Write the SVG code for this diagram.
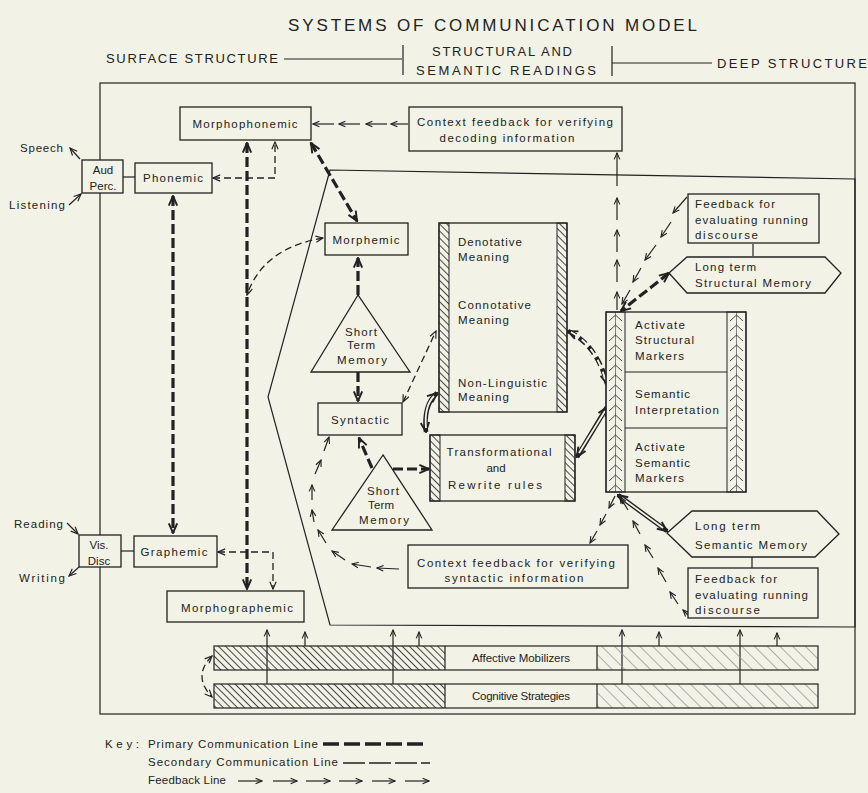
<svg xmlns="http://www.w3.org/2000/svg" width="868" height="793" viewBox="0 0 868 793">
<defs>
<style>
text{font-family:"Liberation Sans","DejaVu Sans",sans-serif;font-size:11.5px;fill:#222}
.h{font-size:13px}
.t{font-size:17px}
.m{text-anchor:middle}
.box{fill:#f2f3e6;stroke:#222;stroke-width:1.3}
.ol{fill:none;stroke:#222;stroke-width:1.2}
.ln{fill:none;stroke:#222;stroke-width:1.2}
.pri{fill:none;stroke:#222;stroke-width:3.2;stroke-dasharray:10 4;marker-start:url(#ab);marker-end:url(#ab)}
.prie{fill:none;stroke:#222;stroke-width:3.2;stroke-dasharray:10 4;marker-end:url(#ab)}
.sec{fill:none;stroke:#222;stroke-width:1.3;stroke-dasharray:7 4;marker-start:url(#a);marker-end:url(#a)}
.thin{fill:none;stroke:#222;stroke-width:1.1;stroke-dasharray:6 3}
.fb{fill:none;stroke:#222;stroke-width:1.2;marker-end:url(#af)}
.dbl{fill:none;stroke:#222;stroke-width:4.6;marker-start:url(#ab);marker-end:url(#ab)}
.dbli{fill:none;stroke:#f2f3e6;stroke-width:1.8}
</style>
<marker id="a" viewBox="0 0 10 10" refX="9" refY="5" markerWidth="9" markerHeight="9" markerUnits="userSpaceOnUse" orient="auto-start-reverse"><path d="M1,1.5 L9,5 L1,8.5" fill="none" stroke="#222" stroke-width="1.3"/></marker>
<marker id="ab" viewBox="0 0 10 10" refX="9" refY="5" markerWidth="12" markerHeight="12" markerUnits="userSpaceOnUse" orient="auto-start-reverse"><path d="M1,1.5 L9,5 L1,8.5" fill="none" stroke="#222" stroke-width="1.6"/></marker>
<marker id="af" viewBox="0 0 10 10" refX="9" refY="5" markerWidth="8" markerHeight="8" markerUnits="userSpaceOnUse" orient="auto-start-reverse"><path d="M1,1.5 L9,5 L1,8.5" fill="none" stroke="#222" stroke-width="1.4"/></marker>
<pattern id="hatch" width="5" height="5" patternUnits="userSpaceOnUse" patternTransform="rotate(-45)"><line x1="2.5" y1="0" x2="2.5" y2="5" stroke="#333" stroke-width="0.9"/></pattern>
<pattern id="hatchl" width="9" height="9" patternUnits="userSpaceOnUse" patternTransform="rotate(-45)"><line x1="4.5" y1="0" x2="4.5" y2="9" stroke="#999" stroke-width="0.8"/></pattern>
<pattern id="chev1" x="606" y="312" width="19" height="10" patternUnits="userSpaceOnUse"><path d="M3,9 L9.5,3 L16,9" stroke="#333" stroke-width="0.9" fill="none"/><line x1="9.5" y1="0" x2="9.5" y2="10" stroke="#333" stroke-width="0.6"/></pattern>
<pattern id="chev2" x="727" y="312" width="19" height="10" patternUnits="userSpaceOnUse"><path d="M3,9 L9.5,3 L16,9" stroke="#333" stroke-width="0.9" fill="none"/><line x1="9.5" y1="0" x2="9.5" y2="10" stroke="#333" stroke-width="0.6"/></pattern>
</defs>
<rect width="868" height="793" fill="#f2f3e6"/>

<g id="header">
<text class="t" x="288" y="31" textLength="409" lengthAdjust="spacing">SYSTEMS OF COMMUNICATION MODEL</text>
<text class="h" x="106" y="63" textLength="172" lengthAdjust="spacing">SURFACE STRUCTURE</text>
<line class="ln" x1="284" y1="59" x2="402" y2="59"/>
<line class="ln" x1="403" y1="45" x2="403" y2="75"/>
<text class="h m" x="502" y="56" textLength="140" lengthAdjust="spacing">STRUCTURAL AND</text>
<text class="h m" x="506" y="75" textLength="180" lengthAdjust="spacing">SEMANTIC READINGS</text>
<line class="ln" x1="612" y1="46" x2="612" y2="76"/>
<line class="ln" x1="612" y1="63" x2="712" y2="63"/>
<text class="h" x="717" y="68" textLength="150" lengthAdjust="spacing">DEEP STRUCTURE</text>
</g>

<g id="frames">
<rect class="ol" x="100" y="83" width="755" height="631"/>
<path class="ol" d="M330,170 L268,397 L330,625 L855,627 L855,179 Z"/>
</g>

<g id="connectors">
<line class="ln" x1="123" y1="177" x2="135" y2="177"/>
<line class="ln" x1="121" y1="551" x2="134" y2="551"/>
<line class="ln" x1="80" y1="159" x2="70" y2="148" marker-end="url(#a)"/>
<line class="ln" x1="69" y1="205" x2="81" y2="194" marker-end="url(#a)"/>
<line class="ln" x1="67" y1="523" x2="78" y2="534" marker-end="url(#a)"/>
<line class="ln" x1="79" y1="567" x2="69" y2="576" marker-end="url(#a)"/>
<path class="pri" d="M173,196 V533"/>
<path class="pri" d="M247,143 V589"/>
<path class="sec" d="M213,178 H275 V142"/>
<path class="sec" d="M218,552 H273 V589"/>
<path class="pri" d="M311,143 L357,221"/>
<path class="sec" d="M323,238 Q263,248 247,295"/>
<path class="prie" d="M358,295 V258"/>
<path class="prie" d="M358,372 V401"/>
<path class="sec" d="M403,402 L436,331"/>
<path class="prie" d="M372,468 L359,438"/>
<path class="prie" d="M393,469 H429"/>
<path class="pri" d="M669,273 L621,311"/>
<path class="dbl" style="stroke-dasharray:9 4" d="M568,331 Q597,345 607,384"/>
<path class="dbli" style="stroke-dasharray:9 4" d="M571,332 Q596,346 605,379"/>
<path class="dbl" d="M437,393 Q423,405 426,432"/>
<path class="dbli" d="M434,396 Q424,406 426,428"/>
<path class="dbl" d="M577,457 L607,407"/>
<path class="dbli" d="M579,453 L605,411"/>
<path class="dbl" d="M618,495 L667,531"/>
<path class="dbli" d="M622,498 L663,528"/>
<line class="ln" x1="463" y1="293" x2="463" y2="268" marker-end="url(#a)"/>
<line class="thin" x1="463" y1="333" x2="463" y2="367" marker-end="url(#a)"/>
<line class="thin" x1="543" y1="268" x2="543" y2="367" marker-start="url(#a)" marker-end="url(#a)"/>
<line class="ln" x1="675" y1="363" x2="675" y2="381" marker-start="url(#af)" marker-end="url(#af)"/>
<line class="ln" x1="675" y1="419" x2="675" y2="437" marker-start="url(#af)" marker-end="url(#af)"/>
<line class="ln" x1="753" y1="244" x2="753" y2="256"/>
<line class="ln" x1="752" y1="557" x2="752" y2="568"/>
<line class="fb" x1="334" y1="124" x2="313" y2="124"/>
<line class="fb" x1="360" y1="124" x2="339" y2="124"/>
<line class="fb" x1="387" y1="124" x2="366" y2="124"/>
<line class="fb" x1="408" y1="124" x2="391" y2="124"/>
<line class="fb" x1="617" y1="310" x2="617" y2="292"/>
<line class="fb" x1="617" y1="282" x2="617" y2="260"/>
<line class="fb" x1="617" y1="252" x2="617" y2="230"/>
<line class="fb" x1="617" y1="220" x2="617" y2="198"/>
<line class="fb" x1="617" y1="186" x2="617" y2="153"/>
<line class="fb" x1="687" y1="197" x2="673" y2="213"/>
<line class="fb" x1="671" y1="222" x2="661" y2="237"/>
<line class="fb" x1="656" y1="245" x2="645" y2="260"/>
<line class="fb" x1="641" y1="268" x2="633" y2="282"/>
<line class="fb" x1="630" y1="290" x2="622" y2="304"/>
<line class="fb" x1="615" y1="496" x2="609" y2="508"/>
<line class="fb" x1="606" y1="514" x2="600" y2="525"/>
<line class="fb" x1="597" y1="531" x2="590" y2="543"/>
<line class="fb" x1="690" y1="617" x2="683" y2="610"/>
<line class="fb" x1="678" y1="604" x2="670" y2="592"/>
<line class="fb" x1="666" y1="582" x2="658" y2="568"/>
<line class="fb" x1="653" y1="558" x2="645" y2="545"/>
<line class="fb" x1="640" y1="534" x2="633" y2="521"/>
<line class="fb" x1="628" y1="510" x2="620" y2="497"/>
<line class="fb" x1="399" y1="569" x2="377" y2="568"/>
<line class="fb" x1="371" y1="567" x2="352" y2="564"/>
<line class="fb" x1="345" y1="560" x2="332" y2="551"/>
<line class="fb" x1="326" y1="543" x2="318" y2="530"/>
<line class="fb" x1="314" y1="522" x2="312" y2="510"/>
<line class="fb" x1="312" y1="500" x2="312" y2="485"/>
<line class="fb" x1="315" y1="474" x2="321" y2="460"/>
<line class="fb" x1="324" y1="451" x2="329" y2="437"/>
<line class="fb" x1="267" y1="684" x2="267" y2="630"/>
<line class="fb" x1="393" y1="684" x2="393" y2="630"/>
<line class="fb" x1="622" y1="684" x2="622" y2="630"/>
<line class="fb" x1="740" y1="684" x2="740" y2="630"/>
<line class="fb" x1="305" y1="646" x2="305" y2="632"/>
<line class="fb" x1="419" y1="646" x2="419" y2="632"/>
<line class="fb" x1="659" y1="646" x2="659" y2="632"/>
<line class="fb" x1="777" y1="646" x2="777" y2="633"/>
<path class="sec" d="M212,656 Q192,676 212,697"/>
</g>

<g id="aud"><rect class="box" x="82" y="160" width="41" height="33"/><text class="m" x="103" y="174">Aud</text><text class="m" x="103" y="190">Perc.</text></g>
<g id="speech"><text x="20" y="152" textLength="43" lengthAdjust="spacing">Speech</text></g>
<g id="listening"><text x="9" y="209" textLength="56" lengthAdjust="spacing">Listening</text></g>
<g id="phonemic"><rect class="box" x="135" y="163" width="77" height="30"/><text class="m" x="173" y="182" textLength="60" lengthAdjust="spacing">Phonemic</text></g>
<g id="morphophonemic"><rect class="box" x="180" y="107" width="131" height="33"/><text class="m" x="245" y="128" textLength="105" lengthAdjust="spacing">Morphophonemic</text></g>
<g id="ctx-decoding"><rect class="box" x="409" y="107" width="213" height="44"/><text class="m" x="515" y="126" textLength="196" lengthAdjust="spacing">Context feedback for verifying</text><text class="m" x="507" y="142" textLength="135" lengthAdjust="spacing">decoding information</text></g>
<g id="morphemic"><rect class="box" x="325" y="223" width="83" height="32"/><text class="m" x="366" y="244" textLength="67" lengthAdjust="spacing">Morphemic</text></g>
<g id="stm1"><polygon class="box" points="358,295 311,372 410,372"/><text class="m" x="361" y="336" textLength="32" lengthAdjust="spacing">Short</text><text class="m" x="361" y="349" textLength="28" lengthAdjust="spacing">Term</text><text class="m" x="362" y="364" textLength="50" lengthAdjust="spacing">Memory</text></g>
<g id="syntactic"><rect class="box" x="318" y="403" width="84" height="32"/><text class="m" x="360" y="424" textLength="58" lengthAdjust="spacing">Syntactic</text></g>
<g id="meaning"><rect class="box" x="439" y="223" width="128" height="189"/><rect x="439" y="223" width="10" height="189" fill="url(#hatch)" stroke="#222" stroke-width="1"/><rect x="557" y="223" width="10" height="189" fill="url(#hatch)" stroke="#222" stroke-width="1"/>
<text x="458" y="246" textLength="64" lengthAdjust="spacing">Denotative</text><text x="458" y="261" textLength="51" lengthAdjust="spacing">Meaning</text>
<text x="458" y="309" textLength="73" lengthAdjust="spacing">Connotative</text><text x="458" y="324" textLength="51" lengthAdjust="spacing">Meaning</text>
<text x="458" y="387" textLength="89" lengthAdjust="spacing">Non-Linguistic</text><text x="458" y="401" textLength="51" lengthAdjust="spacing">Meaning</text></g>
<g id="transformational"><rect class="box" x="430" y="435" width="145" height="66"/><rect x="430" y="435" width="10" height="66" fill="url(#hatch)" stroke="#222" stroke-width="1"/><rect x="565" y="435" width="10" height="66" fill="url(#hatch)" stroke="#222" stroke-width="1"/>
<text class="m" x="499" y="456" textLength="105" lengthAdjust="spacing">Transformational</text><text class="m" x="496" y="472">and</text><text class="m" x="495" y="489" textLength="94" lengthAdjust="spacing">Rewrite rules</text></g>
<g id="stm2"><polygon class="box" points="383,455 332,530 432,530"/><text class="m" x="383" y="495" textLength="32" lengthAdjust="spacing">Short</text><text class="m" x="381" y="509" textLength="26" lengthAdjust="spacing">Term</text><text class="m" x="384" y="524" textLength="50" lengthAdjust="spacing">Memory</text></g>
<g id="ctx-syntactic"><rect class="box" x="408" y="545" width="220" height="43"/><text class="m" x="516" y="567" textLength="198" lengthAdjust="spacing">Context feedback for verifying</text><text class="m" x="514" y="582" textLength="139" lengthAdjust="spacing">syntactic information</text></g>
<g id="markers"><rect class="box" x="606" y="312" width="140" height="180"/><rect x="606" y="312" width="19" height="180" fill="url(#chev1)" stroke="#222" stroke-width="1"/><rect x="727" y="312" width="19" height="180" fill="url(#chev2)" stroke="#222" stroke-width="1"/>
<line class="ln" x1="625" y1="372" x2="727" y2="372"/><line class="ln" x1="625" y1="428" x2="727" y2="428"/>
<text x="635" y="329" textLength="50" lengthAdjust="spacing">Activate</text><text x="635" y="344" textLength="59" lengthAdjust="spacing">Structural</text><text x="635" y="360" textLength="49" lengthAdjust="spacing">Markers</text>
<text x="635" y="398" textLength="55" lengthAdjust="spacing">Semantic</text><text x="635" y="414" textLength="84" lengthAdjust="spacing">Interpretation</text>
<text x="635" y="451" textLength="50" lengthAdjust="spacing">Activate</text><text x="635" y="467" textLength="55" lengthAdjust="spacing">Semantic</text><text x="635" y="482" textLength="49" lengthAdjust="spacing">Markers</text></g>
<g id="feedback-top"><rect class="box" x="688" y="194" width="131" height="49"/><text x="695" y="208" textLength="80" lengthAdjust="spacing">Feedback for</text><text x="695" y="224" textLength="113" lengthAdjust="spacing">evaluating running</text><text x="695" y="239" textLength="63" lengthAdjust="spacing">discourse</text></g>
<g id="lt-structural"><polygon class="box" points="669,273 687,257 825,257 841,273 825,293 687,293"/><text x="695" y="271" textLength="61" lengthAdjust="spacing">Long term</text><text x="695" y="287" textLength="116" lengthAdjust="spacing">Structural Memory</text></g>
<g id="lt-semantic"><polygon class="box" points="667,533 692,511 817,511 839,534 815,557 692,557"/><text x="695" y="530" textLength="65" lengthAdjust="spacing">Long term</text><text x="695" y="549" textLength="112" lengthAdjust="spacing">Semantic Memory</text></g>
<g id="feedback-bottom"><rect class="box" x="688" y="568" width="130" height="50"/><text x="695" y="583" textLength="82" lengthAdjust="spacing">Feedback for</text><text x="695" y="599" textLength="113" lengthAdjust="spacing">evaluating running</text><text x="695" y="614" textLength="65" lengthAdjust="spacing">discourse</text></g>
<g id="graphemic"><rect class="box" x="134" y="536" width="83" height="31"/><text class="m" x="174" y="556" textLength="67" lengthAdjust="spacing">Graphemic</text></g>
<g id="vis"><rect class="box" x="79" y="535" width="42" height="32"/><text class="m" x="99" y="549">Vis.</text><text class="m" x="99" y="565">Disc</text></g>
<g id="reading"><text x="14" y="528" textLength="49" lengthAdjust="spacing">Reading</text></g>
<g id="writing"><text x="19" y="582" textLength="46" lengthAdjust="spacing">Writing</text></g>
<g id="morphographemic"><rect class="box" x="167" y="591" width="137" height="31"/><text class="m" x="237" y="612" textLength="112" lengthAdjust="spacing">Morphographemic</text></g>
<g id="affective"><rect x="214" y="646" width="231" height="24" fill="url(#hatch)"/><rect x="597" y="646" width="221" height="24" fill="url(#hatchl)"/><rect class="ol" x="214" y="646" width="604" height="24"/><line class="ln" x1="445" y1="646" x2="445" y2="670"/><line class="ln" x1="597" y1="646" x2="597" y2="670"/><text class="m" x="521" y="662" textLength="98" lengthAdjust="spacing">Affective Mobilizers</text></g>
<g id="cognitive"><rect x="214" y="684" width="231" height="24" fill="url(#hatch)"/><rect x="597" y="684" width="221" height="24" fill="url(#hatchl)"/><rect class="ol" x="214" y="684" width="604" height="24"/><line class="ln" x1="445" y1="684" x2="445" y2="708"/><line class="ln" x1="597" y1="684" x2="597" y2="708"/><text class="m" x="521" y="700" textLength="98" lengthAdjust="spacing">Cognitive Strategies</text></g>

<g id="key">
<text x="105" y="748" textLength="34" lengthAdjust="spacing">Key:</text>
<text x="148" y="748" textLength="170" lengthAdjust="spacing">Primary Communication Line</text>
<line x1="323" y1="744" x2="428" y2="744" stroke="#222" stroke-width="3.4" stroke-dasharray="16 5"/>
<text x="148" y="766" textLength="190" lengthAdjust="spacing">Secondary Communication Line</text>
<line x1="343" y1="763" x2="430" y2="763" stroke="#222" stroke-width="1.3" stroke-dasharray="22 4"/>
<text x="148" y="784" textLength="78" lengthAdjust="spacing">Feedback Line</text>
<line class="fb" x1="238" y1="781" x2="262" y2="781"/>
<line class="fb" x1="273" y1="781" x2="297" y2="781"/>
<line class="fb" x1="306" y1="781" x2="330" y2="781"/>
<line class="fb" x1="339" y1="781" x2="362" y2="781"/>
<line class="fb" x1="372" y1="781" x2="395" y2="781"/>
<line class="fb" x1="405" y1="781" x2="429" y2="781"/>
</g>
</svg>
